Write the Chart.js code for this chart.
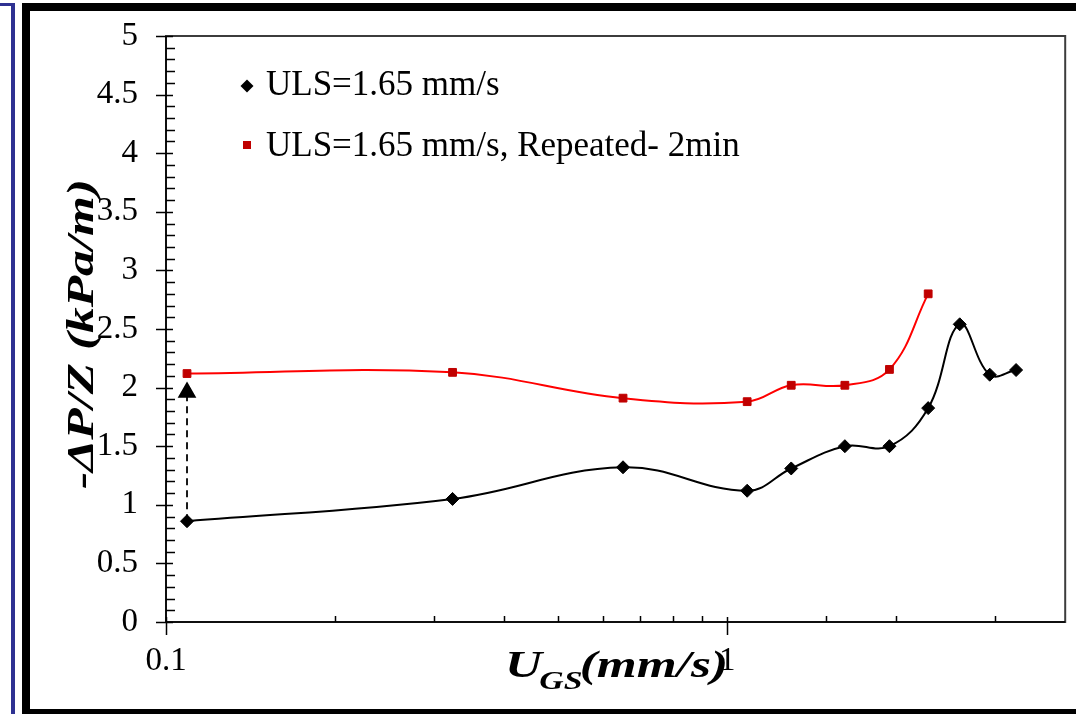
<!DOCTYPE html>
<html>
<head>
<meta charset="utf-8">
<script src="https://cdn.jsdelivr.net/npm/chart.js@4/dist/chart.umd.min.js"></script>
<style>
  html, body { margin: 0; padding: 0; background: #fff; }
  canvas { display: block; }
</style>
</head>
<body>
<canvas id="chart" width="1076" height="714"></canvas>
<script>
// superficial gas velocity (mm/s)
const ugs = [0.109, 0.324, 0.652, 1.085, 1.30, 1.62, 1.945, 2.28, 2.595, 2.935, 3.27];
// pressure gradient -dP/Z (kPa/m)
const dpFirst = [0.86, 1.05, 1.32, 1.12, 1.31, 1.50, 1.50, 1.825, 2.54, 2.11, 2.15];
const dpRepeated = [2.12, 2.13, 1.91, 1.88, 2.02, 2.02, 2.155, 2.80];
// dashed arrow between the two first points
const arrowX = [0.109, 0.109];
const arrowY = [0.86, 1.96];

const seriesNames = ['ULS=1.65 mm/s', 'ULS=1.65 mm/s, Repeated- 2min'];
const xTickValues = [0.1, 1];
const xTickLabels = ['0.1', '1'];
const yTickLabels = ['0', '0.5', '1', '1.5', '2', '2.5', '3', '3.5', '4', '4.5', '5'];

const SERIF = '"Liberation Serif", "Times New Roman", "DejaVu Serif", serif';
const TITLE_STRETCH = 1.35;

function pts(xs, ys) {
  return ys.map((y, i) => ({ x: xs[i], y: y }));
}

const decor = {
  id: 'decor',
  beforeDraw(chart) {
    const ctx = chart.ctx;
    ctx.save();
    ctx.fillStyle = '#fff';
    ctx.fillRect(0, 0, chart.width, chart.height);
    // navy strip on the far left
    ctx.fillStyle = '#2E3192';
    ctx.fillRect(0, 3, 15, 3);
    ctx.fillRect(11, 3, 4, 711);
    // black frame
    ctx.fillStyle = '#000';
    ctx.fillRect(22, 3, 1054, 8);
    ctx.fillRect(22, 3, 8, 711);
    ctx.fillRect(22, 709, 1054, 5);
    ctx.restore();
  },
  afterDraw(chart) {
    const ctx = chart.ctx;
    const a = chart.chartArea;
    const xs = chart.scales.x, ys = chart.scales.y;
    ctx.save();
    // plot box
    ctx.strokeStyle = '#3c3c3c';
    ctx.lineWidth = 2;
    ctx.strokeRect(a.left, a.top, a.right - a.left, a.bottom - a.top);
    ctx.strokeStyle = '#000';
    ctx.lineWidth = 1.5;
    ctx.beginPath();
    ctx.moveTo(a.left, a.top); ctx.lineTo(a.left, a.bottom); ctx.lineTo(a.right, a.bottom);
    ctx.stroke();

    // y ticks: major every 0.5 across the axis, minor every 0.1 inside
    ctx.beginPath();
    for (let k = 0; k <= 50; k++) {
      const py = Math.round(ys.getPixelForValue(k / 10)) + 0.5;
      if (k % 5 === 0) { ctx.moveTo(a.left - 10, py); ctx.lineTo(a.left + 7, py); }
      else { ctx.moveTo(a.left, py); ctx.lineTo(a.left + 9, py); }
    }
    // x ticks from the log scale
    xs.ticks.forEach(t => {
      const px = Math.round(xs.getPixelForValue(t.value)) + 0.5;
      const major = xTickValues.some(v => Math.abs(t.value / v - 1) < 1e-6);
      if (major) { ctx.moveTo(px, a.bottom - 5); ctx.lineTo(px, a.bottom + 13); }
      else if (t.value < xs.max) { ctx.moveTo(px, a.bottom - 6); ctx.lineTo(px, a.bottom); }
    });
    ctx.stroke();

    // legend inside plot
    ctx.fillStyle = '#000';
    ctx.font = '35px ' + SERIF;
    ctx.textBaseline = 'alphabetic';
    ctx.beginPath();
    ctx.moveTo(240.5, 86); ctx.lineTo(247, 79.5); ctx.lineTo(253.5, 86); ctx.lineTo(247, 92.5);
    ctx.closePath();
    ctx.fill();
    ctx.fillText(chart.data.datasets[0].label, 266, 95);
    ctx.fillStyle = '#C00000';
    ctx.fillRect(243, 141, 8, 8);
    ctx.fillStyle = '#000';
    ctx.fillText(chart.data.datasets[1].label, 266, 156);

    // y title, stretched along its length
    ctx.font = 'italic bold 38px ' + SERIF;
    ctx.textAlign = 'center';
    ctx.translate(93, 334);
    ctx.rotate(-Math.PI / 2);
    ctx.scale(TITLE_STRETCH, 1);
    ctx.fillText('-\u0394P/Z (kPa/m)', 0, 0);
    ctx.setTransform(1, 0, 0, 1, 0, 0);

    // x title with subscript
    ctx.textAlign = 'left';
    ctx.translate(505, 0);
    ctx.scale(TITLE_STRETCH, 1);
    let x = 0;
    ctx.font = 'italic bold 38px ' + SERIF;
    ctx.fillText('U', x, 677);
    x += ctx.measureText('U').width;
    ctx.font = 'italic bold 25px ' + SERIF;
    ctx.fillText('GS', x - 2, 689);
    x += ctx.measureText('GS').width - 4;
    ctx.font = 'italic bold 38px ' + SERIF;
    ctx.fillText('(mm/s)', x, 677);
    ctx.restore();
  }
};

new Chart(document.getElementById('chart'), {
  type: 'line',
  data: {
    datasets: [
      {
        label: seriesNames[0],
        data: pts(ugs, dpFirst),
        borderColor: '#000',
        borderWidth: 2,
        pointStyle: 'rectRot',
        pointRadius: 6.5,
        pointBackgroundColor: '#000',
        pointBorderColor: '#000',
        pointBorderWidth: 1,
        tension: 0.4,
        order: 1
      },
      {
        label: seriesNames[1],
        data: pts(ugs, dpRepeated),
        borderColor: '#FF0000',
        borderWidth: 2,
        pointStyle: 'rect',
        pointRadius: 5.5,
        pointBackgroundColor: '#C00000',
        pointBorderColor: '#C00000',
        pointBorderWidth: 1,
        tension: 0.4,
        order: 2
      },
      {
        label: 'arrow',
        data: pts(arrowX, arrowY),
        borderColor: '#000',
        borderWidth: 1.8,
        borderDash: [7, 5],
        pointStyle: 'triangle',
        pointRadius: [0, 9],
        pointBackgroundColor: '#000',
        pointBorderColor: '#000',
        tension: 0,
        order: 3
      }
    ]
  },
  options: {
    responsive: false,
    animation: false,
    devicePixelRatio: 1,
    layout: { padding: { top: 36, right: 10, left: 0, bottom: 0 } },
    plugins: {
      legend: { display: false },
      tooltip: { enabled: false }
    },
    scales: {
      x: {
        type: 'logarithmic',
        min: 0.1,
        max: 4,
        grid: { drawOnChartArea: false, drawTicks: true, tickLength: 20, tickColor: 'rgba(0,0,0,0)' },
        border: { display: false },
        afterFit: s => { s.height = 92; },
        ticks: {
          autoSkip: false,
          maxRotation: 0,
          padding: 0,
          color: '#000',
          font: { family: SERIF, size: 33 },
          callback: v => {
            const i = xTickValues.findIndex(t => Math.abs(v / t - 1) < 1e-6);
            return i >= 0 ? xTickLabels[i] : '';
          }
        }
      },
      y: {
        min: 0,
        max: 5,
        grid: { drawOnChartArea: false, drawTicks: true, tickLength: 28, tickColor: 'rgba(0,0,0,0)' },
        border: { display: false },
        afterFit: s => { s.width = 166; },
        ticks: {
          stepSize: 0.5,
          padding: 0,
          color: '#000',
          font: { family: SERIF, size: 33 },
          callback: (v, i) => yTickLabels[i]
        }
      }
    }
  },
  plugins: [decor]
});
</script>
</body>
</html>
